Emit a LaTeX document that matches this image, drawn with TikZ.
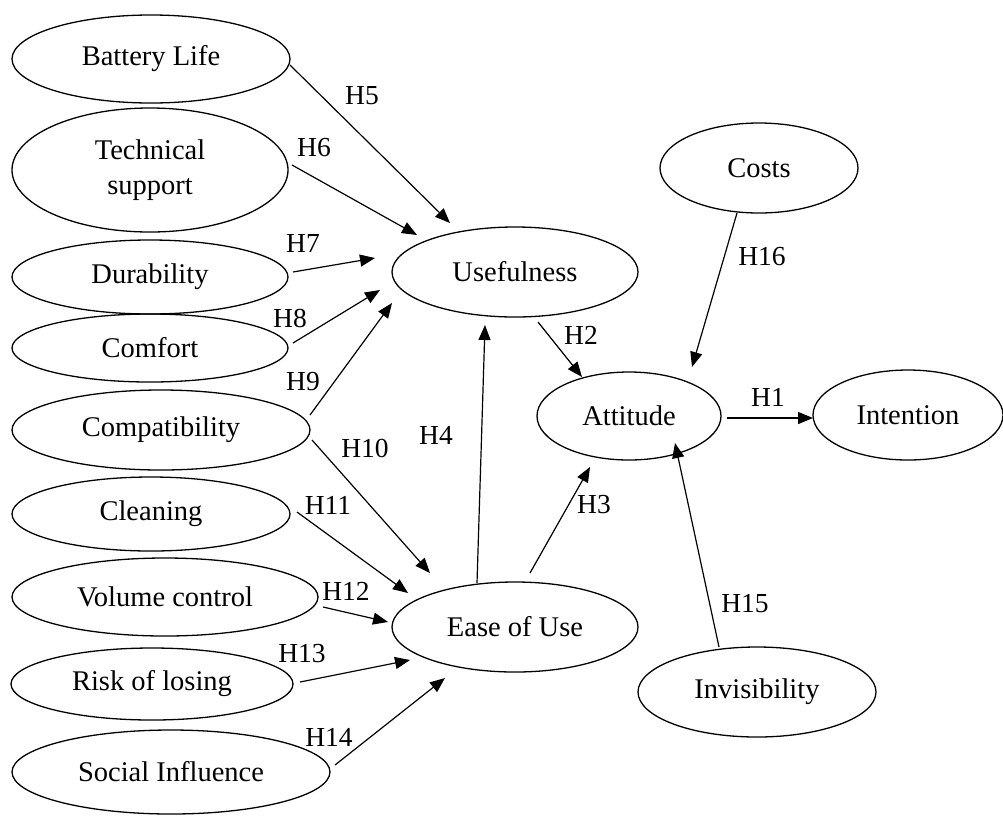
\documentclass[tikz,border=0pt]{standalone}
\usepackage{fontspec}
\setmainfont{Liberation Serif}
\usetikzlibrary{shapes.geometric,arrows.meta}

\tikzset{
  construct/.style={draw, ellipse, line width=1.3pt, inner sep=0pt,
    align=center, font=\fontsize{28.5}{35}\selectfont},
  hyp/.style={line width=1.2pt, -{Triangle[length=15pt,width=12pt]}},
  hlabel/.style={inner sep=0pt, font=\fontsize{27.5}{32}\selectfont}
}

\begin{document}
\begin{tikzpicture}[x=1pt, y=-1pt]
\useasboundingbox (0,0) rectangle (1003,815);

% antecedents on the left
\node[construct, minimum width=278pt, minimum height=88pt]  (bat)  at (151,59)  {Battery Life};
\node[construct, minimum width=276pt, minimum height=124pt] (tech) at (150,170) {Technical\\support};
\node[construct, minimum width=276pt, minimum height=74pt]  (dur)  at (150,277) {Durability};
\node[construct, minimum width=276pt, minimum height=68pt]  (com)  at (150,348) {Comfort};
\node[construct, minimum width=298pt, minimum height=80pt]  (cpt)  at (161,430) {Compatibility};
\node[construct, minimum width=278pt, minimum height=74pt]  (cln)  at (151,514) {Cleaning};
\node[construct, minimum width=306pt, minimum height=78pt]  (vol)  at (165,597) {Volume control};
\node[construct, minimum width=282pt, minimum height=72pt]  (risk) at (152,684) {Risk of losing};
\node[construct, minimum width=318pt, minimum height=84pt]  (soc)  at (171,772) {Social Influence};

% core constructs
\node[construct, minimum width=246pt, minimum height=90pt]  (use)  at (515,272) {Usefulness};
\node[construct, minimum width=246pt, minimum height=90pt]  (eou)  at (515,627) {Ease of Use};
\node[construct, minimum width=184pt, minimum height=88pt]  (att)  at (629,416) {Attitude};
\node[construct, minimum width=190pt, minimum height=90pt]  (int)  at (908,415) {Intention};
\node[construct, minimum width=198pt, minimum height=90pt]  (cost) at (759,168) {Costs};
\node[construct, minimum width=238pt, minimum height=90pt]  (inv)  at (757,692) {Invisibility};

% hypothesised paths
\draw[hyp] ([shift={(139,6)}]bat.center)   -- ([shift={(-65,-49)}]use.center);
\draw[hyp] ([shift={(142,-5)}]tech.center) -- ([shift={(-98,-37)}]use.center);
\draw[hyp] ([shift={(143,-5)}]dur.center)  -- ([shift={(-140,-14)}]use.center);
\draw[hyp] ([shift={(143,-5)}]com.center)  -- ([shift={(-135,18)}]use.center);
\draw[hyp] ([shift={(149,-15)}]cpt.center) -- ([shift={(-123,31)}]use.center);
\draw[hyp] ([shift={(151,10)}]cpt.center)  -- ([shift={(-85,-54)}]eou.center);
\draw[hyp] ([shift={(146,-2)}]cln.center)  -- ([shift={(-107,-34)}]eou.center);
\draw[hyp] ([shift={(158,10)}]vol.center)  -- ([shift={(-127,-5)}]eou.center);
\draw[hyp] ([shift={(148,-2)}]risk.center) -- ([shift={(-105,33)}]eou.center);
\draw[hyp] ([shift={(164,-7)}]soc.center)  -- ([shift={(-70,51)}]eou.center);
\draw[hyp] ([shift={(-38,-44)}]eou.center) -- ([shift={(-30,53)}]use.center);
\draw[hyp] ([shift={(23,50)}]use.center)   -- ([shift={(-47,-39)}]att.center);
\draw[hyp] ([shift={(15,-54)}]eou.center)  -- ([shift={(-39,51)}]att.center);
\draw[hyp] ([shift={(98,2)}]att.center)    -- ([shift={(-95,3)}]int.center);
\draw[hyp] ([shift={(-22,45)}]cost.center) -- ([shift={(63,-49)}]att.center);
\draw[hyp] ([shift={(-38,-45)}]inv.center) -- ([shift={(46,27)}]att.center);

% path labels
\node[hlabel] (h1)  at (768,397) {H1};
\node[hlabel] (h2)  at (581,335) {H2};
\node[hlabel] (h3)  at (594,505) {H3};
\node[hlabel] (h4)  at (436,435) {H4};
\node[hlabel] (h5)  at (362,96)  {H5};
\node[hlabel] (h6)  at (314,148) {H6};
\node[hlabel] (h7)  at (303,243) {H7};
\node[hlabel] (h8)  at (290,318) {H8};
\node[hlabel] (h9)  at (303,382) {H9};
\node[hlabel] (h10) at (365,448) {H10};
\node[hlabel] (h11) at (328,505) {H11};
\node[hlabel] (h12) at (346,591) {H12};
\node[hlabel] (h13) at (302,654) {H13};
\node[hlabel] (h14) at (329,737) {H14};
\node[hlabel] (h15) at (745,604) {H15};
\node[hlabel] (h16) at (762,257) {H16};
\end{tikzpicture}
\end{document}
